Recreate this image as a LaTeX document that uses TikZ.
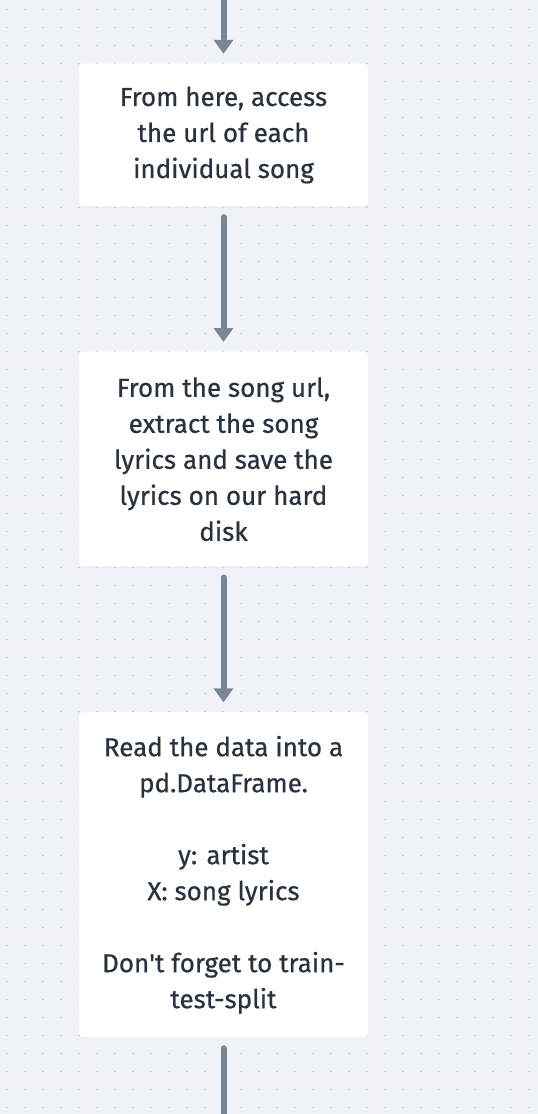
\documentclass[tikz,border=0pt]{standalone}
\usepackage{fontspec}
\setmainfont{Fira Sans}[BoldFont=Fira Sans, BoldFeatures={FakeBold=0.6}]
\usetikzlibrary{arrows.meta,shadows}
\definecolor{bgcol}{HTML}{EFF3F7}
\definecolor{dotcol}{HTML}{C3CBD6}
\definecolor{arrcol}{HTML}{7A8693}
\definecolor{txtcol}{HTML}{29323F}
\tikzset{
  stepbox/.style={fill=white, draw=none, rounded corners=4pt,
    minimum width=289pt, inner sep=0pt, align=center, text=txtcol,
    font=\fontsize{26}{36}\selectfont\bfseries,
    drop shadow={opacity=0.06, shadow xshift=0pt, shadow yshift=-1.5pt}},
  flow/.style={draw=arrcol, line width=6pt, line cap=round,
    -{Triangle[width=19pt,length=14pt]}, shorten <=10.5pt, shorten >=9.5pt}
}
\begin{document}
\begin{tikzpicture}[x=1pt,y=-1pt]
\useasboundingbox (0,0) rectangle (538,1114);
\fill[bgcol] (0,0) rectangle (538,1114);
\foreach \i in {0,...,29}{
  \foreach \j in {0,...,61}{
    \fill[dotcol] (7+18*\i, 9.5+18*\j) circle (0.9pt);
  }
}
\node[stepbox, minimum height=143pt] (b1) at (223.5,135)
  {From here, access\\the url of each\\individual song};
\node[stepbox, minimum height=215pt] (b2) at (223.5,459.2)
  {From the song url,\\extract the song\\lyrics and save the\\lyrics on our hard\\disk};
\node[stepbox, minimum height=325.5pt] (b3) at (223.5,874.8)
  {Read the data into a\\pd.DataFrame.\\[36pt]y: artist\\X: song lyrics\\[36pt]Don\textquotesingle t forget to train-\\test-split};
\coordinate (top) at (223.5,-20);
\coordinate (bot) at (223.5,1130);
\draw[flow, shorten <=0pt] (top) -- (b1.north);
\draw[flow] (b1.south) -- (b2.north);
\draw[flow] (b2.south) -- (b3.north);
\draw[draw=arrcol, line width=6pt, line cap=round, shorten <=10.5pt] (b3.south) -- (bot);
\end{tikzpicture}
\end{document}
